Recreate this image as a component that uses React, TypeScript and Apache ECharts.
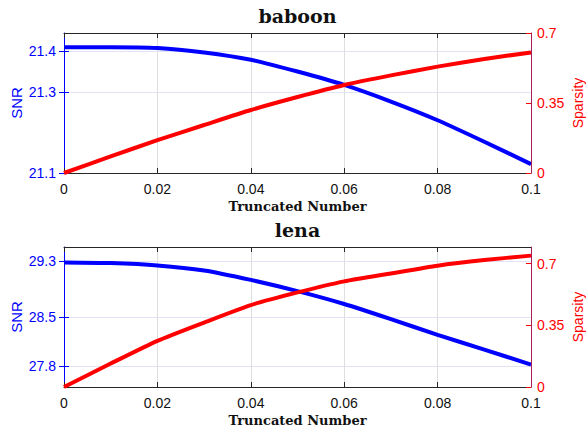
import React, { useEffect, useRef } from "react";
import * as echarts from "echarts";

const xValues = [0, 0.01, 0.02, 0.03, 0.04, 0.05, 0.06, 0.07, 0.08, 0.09, 0.1];
const baboonSNR = [21.41, 21.41, 21.408, 21.397, 21.379, 21.35, 21.317, 21.276, 21.23, 21.177, 21.122];
const baboonSparsity = [0, 0.083, 0.164, 0.24, 0.315, 0.38, 0.44, 0.488, 0.532, 0.57, 0.603];
const lenaSNR = [29.28, 29.27, 29.237, 29.165, 29.03, 28.87, 28.686, 28.47, 28.245, 28.035, 27.82];
const lenaSparsity = [0, 0.133, 0.262, 0.366, 0.465, 0.537, 0.6, 0.645, 0.689, 0.721, 0.746];
const xTicks = [0, 0.02, 0.04, 0.06, 0.08, 0.1];
const baboonSNRTicks = [21.1, 21.3, 21.4];
const lenaSNRTicks = [27.8, 28.5, 29.3];
const sparsityTicks = [0, 0.35, 0.7];
const titles = ["baboon", "lena"];

const BLUE = "#0000ff";
const RED = "#ff0000";
const RAXIS = "#a8205a";
const SANS = "'Liberation Sans', Arial, sans-serif";
const SERIF = "'DejaVu Serif', serif";

export default function App() {
  const ref = useRef<HTMLDivElement>(null);
  useEffect(() => {
    if (!ref.current) return;
    const chart = echarts.init(ref.current, null, { renderer: "svg" });
    const grids = [
      { left: 64, top: 33, width: 467, height: 140 },
      { left: 64, top: 247, width: 467, height: 140 },
    ];
    const snrRanges = [
      { min: 21.1, max: 21.445, ticks: baboonSNRTicks },
      { min: 27.5, max: 29.5, ticks: lenaSNRTicks },
    ];
    const spRanges = [
      { min: 0, max: 0.7 },
      { min: 0, max: 0.795 },
    ];
    const xAxis: any[] = [];
    const yAxis: any[] = [];
    const series: any[] = [];
    const fmtX = (v: number) => String(+v.toFixed(2));
    [0, 1].forEach((g) => {
      xAxis.push({
        type: "value",
        gridIndex: g,
        min: 0,
        max: 0.1,
        interval: 0.02,
        name: "Truncated Number",
        nameLocation: "middle",
        nameGap: 27,
        nameMoveOverlap: false,
        nameTextStyle: { fontFamily: SERIF, fontWeight: "bold", fontSize: 13, color: "#111" },
        axisLine: { show: true, onZero: false, lineStyle: { color: "#262626", width: 1 } },
        axisTick: { show: true, inside: true, length: 5, customValues: xTicks, lineStyle: { color: "#262626" } },
        axisLabel: { customValues: xTicks, formatter: fmtX, fontFamily: SANS, fontSize: 14, color: "#111", margin: 9 },
        splitLine: { show: true, lineStyle: { color: "#dedede", width: 1 } },
      });
      xAxis.push({
        type: "value",
        gridIndex: g,
        position: "top",
        min: 0,
        max: 0.1,
        interval: 0.02,
        axisLine: { show: true, onZero: false, lineStyle: { color: "#262626", width: 1 } },
        axisTick: { show: true, inside: true, length: 5, lineStyle: { color: "#262626" } },
        axisLabel: { show: false },
        splitLine: { show: false },
      });
      const r = snrRanges[g];
      yAxis.push({
        type: "value",
        gridIndex: g,
        position: "left",
        min: r.min,
        max: r.max,
        name: "SNR",
        nameLocation: "middle",
        nameGap: 40,
        nameMoveOverlap: false,
        nameTextStyle: { fontFamily: SANS, fontSize: 15, color: BLUE },
        axisLine: { show: true, onZero: false, lineStyle: { color: BLUE, width: 1 } },
        axisTick: { show: true, inside: true, length: 5, customValues: r.ticks, lineStyle: { color: BLUE } },
        axisLabel: { customValues: r.ticks, fontFamily: SANS, fontSize: 14, color: BLUE, margin: 8 },
        splitLine: { show: true, lineStyle: { color: "#e2e2f6", width: 1 } },
      });
      const s = spRanges[g];
      yAxis.push({
        type: "value",
        gridIndex: g,
        position: "right",
        min: s.min,
        max: s.max,
        name: "Sparsity",
        nameLocation: "middle",
        nameGap: 40,
        nameRotate: 90,
        nameMoveOverlap: false,
        nameTextStyle: { fontFamily: SANS, fontSize: 14, color: RED },
        axisLine: { show: true, onZero: false, lineStyle: { color: RAXIS, width: 1 } },
        axisTick: { show: true, inside: true, length: 5, customValues: sparsityTicks, lineStyle: { color: RED } },
        axisLabel: { customValues: sparsityTicks, fontFamily: SANS, fontSize: 14, color: RED, margin: 6 },
        splitLine: { show: false },
        z: 5,
      });
      yAxis.push({
        type: "value",
        gridIndex: g,
        position: "right",
        min: r.min,
        max: r.max,
        axisLine: { show: false },
        axisTick: { show: true, inside: true, length: 5, customValues: r.ticks, lineStyle: { color: BLUE } },
        axisLabel: { show: false },
        splitLine: { show: false },
      });
    });
    const snrData = [baboonSNR, lenaSNR];
    const spData = [baboonSparsity, lenaSparsity];
    [0, 1].forEach((g) => {
      series.push({
        type: "line",
        xAxisIndex: g * 2,
        yAxisIndex: g * 3,
        data: xValues.map((x, i) => [x, snrData[g][i]]),
        showSymbol: false,
        smooth: 0.2,
        lineStyle: { color: BLUE, width: 4 },
        z: 3,
      });
      series.push({
        type: "line",
        xAxisIndex: g * 2,
        yAxisIndex: g * 3 + 1,
        data: xValues.map((x, i) => [x, spData[g][i]]),
        showSymbol: false,
        smooth: 0.2,
        lineStyle: { color: RED, width: 4 },
        z: 4,
      });
    });
    chart.setOption({
      animation: false,
      backgroundColor: "#ffffff",
      grid: grids.map((gr) => ({ ...gr, show: false, containLabel: false, outerBoundsMode: "none" })),
      xAxis,
      yAxis,
      series,
      graphic: titles.map((t, i) => ({
        type: "text",
        x: 297.5,
        y: i === 0 ? 16 : 230,
        style: {
          text: t,
          fontFamily: SERIF,
          fontWeight: "bold",
          fontSize: 19,
          fill: "#111",
          textAlign: "center",
          textVerticalAlign: "middle",
        },
      })),
    });
    return () => chart.dispose();
  }, []);
  return (
    <div
      ref={ref}
      style={{ position: "fixed", left: 0, top: 0, width: 586, height: 427 }}
    />
  );
}
